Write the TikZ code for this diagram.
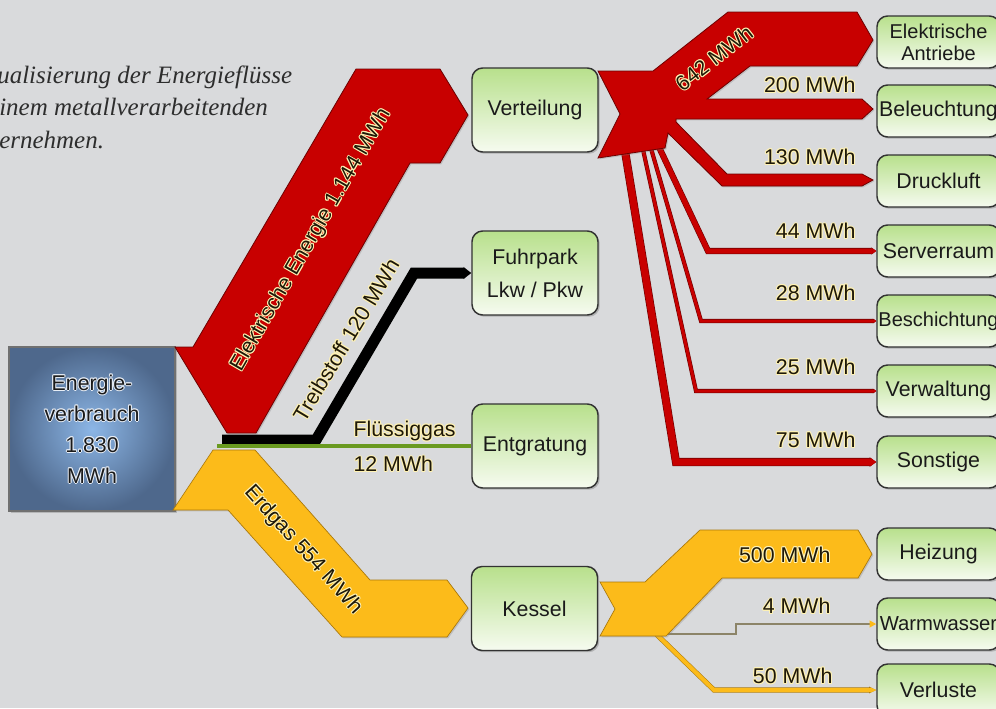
\documentclass[tikz,border=0pt]{standalone}
\usepackage{fontspec}
\setmainfont{Liberation Sans}
\newfontfamily\titlefont{Liberation Serif}
\usetikzlibrary{arrows.meta,shadows}
\definecolor{bgc}{RGB}{217,218,220}
\definecolor{redc}{RGB}{200,0,0}
\definecolor{reddark}{RGB}{110,0,0}
\definecolor{yellowc}{RGB}{252,187,26}
\definecolor{yellowdark}{RGB}{170,120,10}
\definecolor{greenc}{RGB}{106,154,32}
\definecolor{greendark}{RGB}{60,90,20}
\definecolor{warmc}{RGB}{140,132,104}
\definecolor{boxtop}{RGB}{184,224,140}
\definecolor{boxbot}{RGB}{246,251,240}
\definecolor{boxline}{RGB}{50,50,50}
\definecolor{evin}{RGB}{140,182,230}
\definecolor{evout}{RGB}{78,104,140}
\definecolor{haloc}{RGB}{255,242,180}
\definecolor{evhalo}{RGB}{232,238,246}
\definecolor{txt}{RGB}{26,26,26}
\definecolor{lbltxt}{RGB}{30,24,8}
\definecolor{titlec}{RGB}{45,45,45}
\newcommand\fs{\fontsize{16}{19}\selectfont}
\newcommand\halo[2][haloc]{%
  \def\hl##1##2{\makebox[0pt][l]{\hspace*{##1}\raisebox{##2}{\color{#1}#2}}}%
  \hl{0.75pt}{0pt}\hl{-0.75pt}{0pt}\hl{0pt}{0.75pt}\hl{0pt}{-0.75pt}%
  \hl{0.55pt}{0.55pt}\hl{-0.55pt}{0.55pt}\hl{0.55pt}{-0.55pt}\hl{-0.55pt}{-0.55pt}%
  #2}
\begin{document}
\begin{tikzpicture}[x=0.75pt,y=-0.75pt,
  midbox/.style={draw=boxline, line width=1.1pt, rounded corners=8pt,
    top color=boxtop, bottom color=boxbot, minimum width=94.5pt,
    minimum height=63pt, align=center, font=\fs, text=txt, inner sep=1pt,
    drop shadow={shadow xshift=1.3pt, shadow yshift=-1.3pt, opacity=0.45}},
  rbox/.style={midbox, minimum width=92.25pt, minimum height=39pt},
  ebox/.style={draw=boxline!70, line width=0.8pt, shading=radial,
    inner color=evin, outer color=evout, minimum width=124.5pt,
    minimum height=123pt, align=center, text=txt,
    font=\fontsize{16}{23.25}\selectfont,
    drop shadow={shadow xshift=1.3pt, shadow yshift=-1.3pt, opacity=0.4}},
  lbl/.style={font=\fs, text=lbltxt, inner sep=1pt},
  titlestyle/.style={font=\titlefont\itshape\fontsize{18.75}{22}\selectfont, text=titlec, inner sep=0pt},
  redband/.style={fill=redc, draw=reddark, line width=0.6pt, line join=miter,
    drop shadow={shadow xshift=1pt, shadow yshift=-1pt, opacity=0.3}},
  yelband/.style={fill=yellowc, draw=yellowdark, line width=0.5pt, line join=miter,
    drop shadow={shadow xshift=1pt, shadow yshift=-1pt, opacity=0.3}},
  redthin/.style={draw=redc, line width=#1, line join=miter,
    preaction={draw=reddark, line width=#1+0.9pt},
    -{Triangle[length=0pt 0.8, width=0pt 1.1]}},
  blkline/.style={draw=black, line width=8.25pt, line join=miter,
    -{Triangle[length=0pt 0.7, width=0pt 1.05]}},
  greenline/.style={draw=greenc, line width=2.4pt,
    preaction={draw=greendark, line width=3.3pt}},
  warmline/.style={draw=warmc, line width=2.2pt, line join=miter,
    -{Triangle[color=yellowc, length=5pt, width=5pt]}},
  lossline/.style={draw=yellowc, line width=3pt, line join=miter,
    preaction={draw=yellowdark, line width=3.8pt},
    -{Triangle[length=0pt 1.4, width=0pt 1.2]}}
]
\path[use as bounding box, fill=bgc] (0,0) rectangle (996,708);
\clip (0,0) rectangle (996,708);

% title
\node[titlestyle, anchor=base west] (t1) at (-3,83) {ualisierung der Energieflüsse};
\node[titlestyle, anchor=base west] (t2) at (-1,115) {inem metallverarbeitenden};
\node[titlestyle, anchor=base west] (t3) at (-1,148) {ernehmen.};

% boxes
\node[ebox] (ev) at (92,429) {\halo[evhalo]{Energie-}\\\halo[evhalo]{verbrauch}\\\halo[evhalo]{1.830}\\\halo[evhalo]{MWh}};
\node[midbox] (vert) at (535,110) {Verteilung};
\node[midbox, font=\fontsize{16}{24.75}\selectfont] (fuhr) at (535,273) {Fuhrpark\\Lkw / Pkw};
\node[midbox] (entg) at (535,446) {Entgratung};
\node[midbox] (kess) at (534.5,608.5) {Kessel};

\node[rbox, font=\fontsize{15}{16.5}\selectfont] (ea) at (938.5,42) {Elektrische\\Antriebe};
\node[rbox] (bel) at (938.5,111) {Beleuchtung};
\node[rbox] (dru) at (938.5,181) {Druckluft};
\node[rbox] (ser) at (938.5,251) {Serverraum};
\node[rbox, font=\fontsize{15}{18}\selectfont] (bes) at (938.5,321) {Beschichtung};
\node[rbox] (vew) at (938.5,391) {Verwaltung};
\node[rbox] (son) at (938.5,462) {Sonstige};
\node[rbox] (hei) at (938.5,554) {Heizung};
\node[rbox, font=\fontsize{15.2}{18}\selectfont] (war) at (938.5,624) {Warmwasser};
\node[rbox] (vel) at (938.5,690) {Verluste};

% main flows from Energieverbrauch
\path[redband] (175,347) -- (193,347) -- (356,69) -- (440,69) -- (468,115)
  -- (440,163) -- (410,163) -- (256,433) -- (227,433) -- cycle;
\draw[blkline] (222,440) -- (316,440) -- (414,273) -- (fuhr.west);
\draw[greenline] (217,446) -- (entg.west);
\path[yelband] (213,450) -- (255,450) -- (370,580) -- (447,580) -- (468,608)
  -- (447,637) -- (342,637) -- (228,510) -- (173,510) -- cycle;

% distribution from Verteilung
\draw[redthin=5.25pt] (624,145) -- (676,462) -- (son.west);
\draw[redthin=2.25pt] (642,145) -- (696,391) -- (vew.west);
\draw[redthin=2.25pt] (650,145) -- (701,321) -- (bes.west);
\draw[redthin=3.75pt] (658,145) -- (708,251) -- (ser.west);
\path[redband] (598,71) -- (653,71) -- (728,12) -- (857,12) -- (873,40) -- (857,66)
  -- (750,66) -- (707,99) -- (862,99) -- (873,109) -- (862,119) -- (676,119)
  -- (676,122) -- (727,174) -- (862,174) -- (873,180) -- (862,186) -- (722,186)
  -- (668,133) -- (665,148) -- (598,158) -- (620,114) -- cycle;

% distribution from Kessel
\draw[warmline] (655,634) -- (736,634) -- (736,624) -- (war.west);
\draw[lossline] (652,630) -- (714,690) -- (vel.west);
\path[yelband] (600,582) -- (645,582) -- (700,530) -- (858,530) -- (872,554)
  -- (858,578) -- (722,578) -- (666,636) -- (600,636) -- (615,609) -- cycle;

% labels
\node[lbl, rotate=60] (lel) at (311,240) {\halo{Elektrische Energie 1.144 MWh}};
\node[lbl, rotate=59] (ltr) at (346,340) {\halo{Treibstoff 120 MWh}};
\node[lbl, anchor=west] (lfl) at (352,431) {\halo{Flüssiggas}};
\node[lbl, anchor=west] (l12) at (352,464) {\halo{12 MWh}};
\node[lbl, rotate=-48] (lerd) at (303,550) {\halo{Erdgas 554 MWh}};
\node[lbl, rotate=38] (l642) at (714,58) {\halo{642 MWh}};
\node[lbl, anchor=east] (l200) at (857,85) {\halo{200 MWh}};
\node[lbl, anchor=east] (l130) at (857,157) {\halo{130 MWh}};
\node[lbl, anchor=east] (l44) at (857,231) {\halo{44 MWh}};
\node[lbl, anchor=east] (l28) at (857,293) {\halo{28 MWh}};
\node[lbl, anchor=east] (l25) at (857,367) {\halo{25 MWh}};
\node[lbl, anchor=east] (l75) at (857,440) {\halo{75 MWh}};
\node[lbl, anchor=east] (l500) at (832,555) {\halo{500 MWh}};
\node[lbl, anchor=east] (l4) at (832,606) {\halo{4 MWh}};
\node[lbl, anchor=east] (l50) at (834,676) {\halo{50 MWh}};
\end{tikzpicture}
\end{document}
